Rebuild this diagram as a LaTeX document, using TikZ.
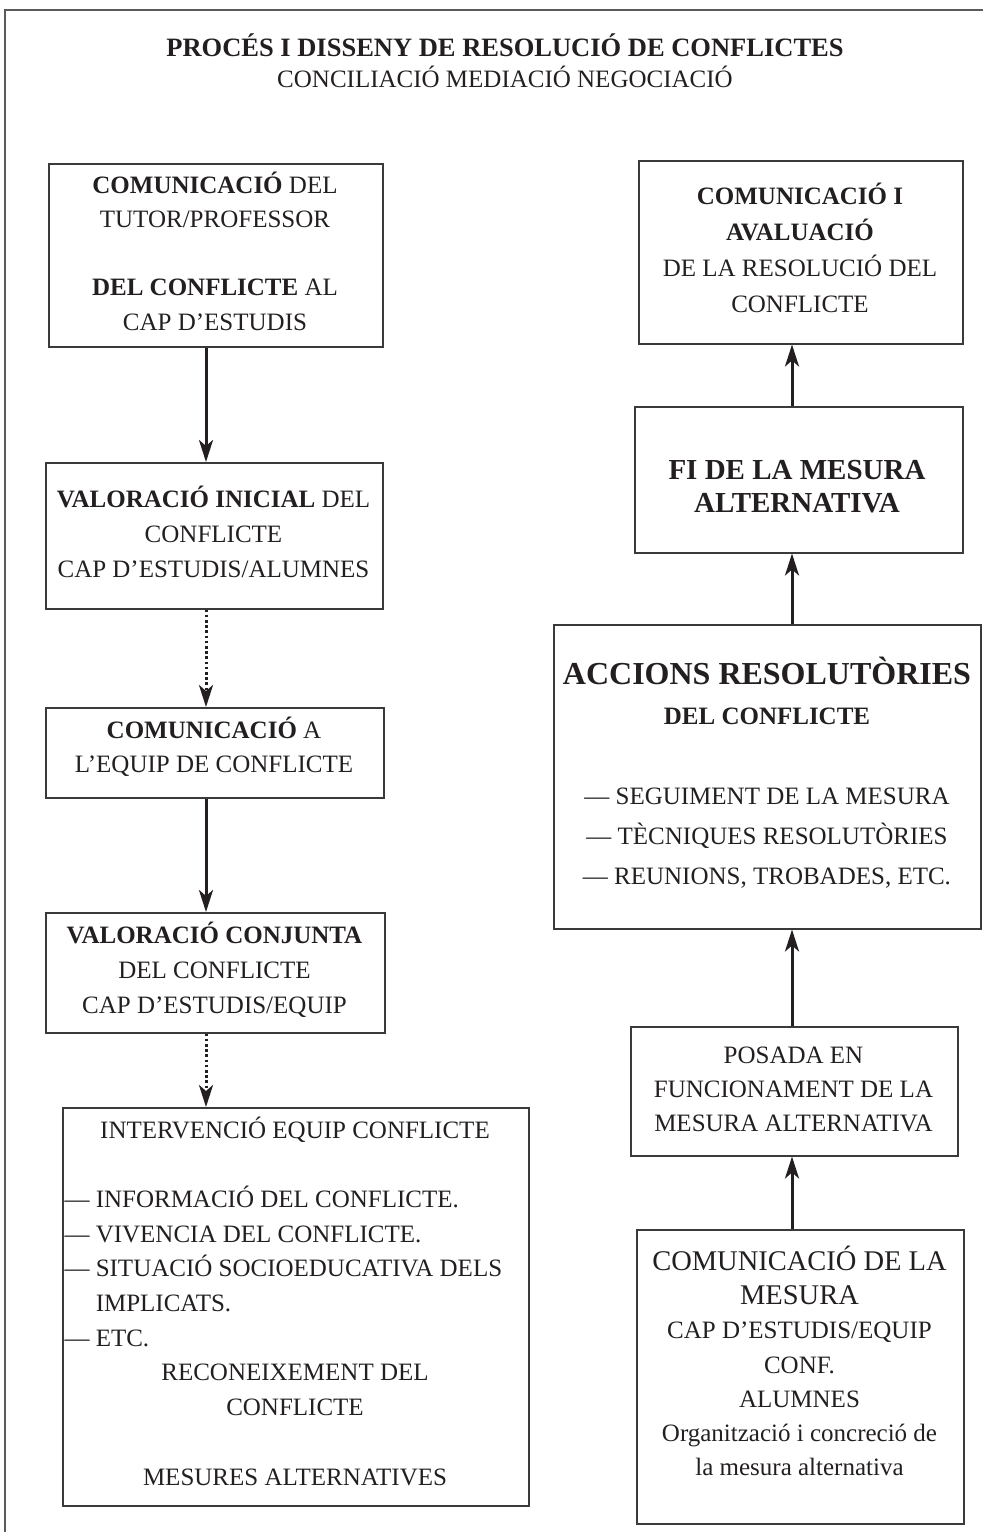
\documentclass[tikz,border=0pt]{standalone}
\usepackage{fontspec}
\setmainfont{Liberation Serif}
\usetikzlibrary{arrows.meta}
\definecolor{ink}{HTML}{231F20}
\definecolor{edge}{HTML}{3A3A3A}
\definecolor{framec}{HTML}{5A5A5A}
\begin{document}
\begin{tikzpicture}[x=1pt,y=-1pt,
  box/.style={draw=edge, line width=1.5pt, inner sep=0pt, anchor=north west},
  txt/.style={align=center, inner sep=0pt, text=ink, font=\fontsize{25}{34.5}\selectfont},
  arr/.style={draw=ink, line width=3pt, -{Stealth[length=22pt,width=14pt,inset=6pt]}},
  darr/.style={arr, dash pattern=on 2.6pt off 2.6pt}]
\useasboundingbox (0,0) rectangle (983,1532);
% frame
\draw[framec, line width=1.5pt] (5,1532) -- (5,10) -- (983,10);
% title
\node[txt, font=\fontsize{26.5}{32}\selectfont\bfseries] (title) at (505,45) {PROCÉS I DISSENY DE RESOLUCIÓ DE CONFLICTES};
\node[txt] (subtitle) at (505,77) {CONCILIACIÓ MEDIACIÓ NEGOCIACIÓ};
% left column boxes
\node[box, minimum width=334pt, minimum height=183pt] (b1) at (48,163) {};
\node[box, minimum width=337pt, minimum height=146pt] (b2) at (45,462) {};
\node[box, minimum width=338pt, minimum height=90pt] (b3) at (45,707) {};
\node[box, minimum width=339pt, minimum height=120pt] (b4) at (45,912) {};
\node[box, minimum width=466pt, minimum height=398pt] (b5) at (62,1107) {};
% right column boxes
\node[box, minimum width=324pt, minimum height=183pt] (r1) at (638,160) {};
\node[box, minimum width=328pt, minimum height=146pt] (r2) at (634,406) {};
\node[box, minimum width=427pt, minimum height=304pt] (r3) at (553,624) {};
\node[box, minimum width=327pt, minimum height=129pt] (r4) at (630,1026) {};
\node[box, minimum width=327pt, minimum height=294pt] (r5) at (636,1229) {};
% texts
\node[txt, font=\fontsize{25}{34.3}\selectfont] (b1t) at (215,251) {{\bfseries COMUNICACIÓ} DEL\\ TUTOR/PROFESSOR\\[34.3pt] {\bfseries DEL CONFLICTE} AL\\ CAP D’ESTUDIS};
\node[txt, font=\fontsize{25}{35}\selectfont] (b2t) at (213.5,532) {{\bfseries VALORACIÓ INICIAL} DEL\\ CONFLICTE\\ CAP D’ESTUDIS/ALUMNES};
\node[txt, font=\fontsize{25}{34}\selectfont] (b3t) at (214,747) {{\bfseries COMUNICACIÓ} A\\ L’EQUIP DE CONFLICTE};
\node[txt, font=\fontsize{25}{35}\selectfont] (b4t) at (214.5,969.5) {{\bfseries VALORACIÓ CONJUNTA}\\ DEL CONFLICTE\\ CAP D’ESTUDIS/EQUIP};
\node[txt, align=left, font=\fontsize{25}{34.7}\selectfont] (b5t) at (295,1301) {%
\makebox[461pt][c]{INTERVENCIÓ EQUIP CONFLICTE}\\[34.7pt]
— INFORMACIÓ DEL CONFLICTE.\\
— VIVENCIA DEL CONFLICTE.\\
— SITUACIÓ SOCIOEDUCATIVA DELS\\
\phantom{— }IMPLICATS.\\
— ETC.\\
\makebox[461pt][c]{RECONEIXEMENT DEL}\\
\makebox[461pt][c]{CONFLICTE}\\[34.7pt]
\makebox[461pt][c]{MESURES ALTERNATIVES}};
\node[txt, font=\fontsize{25}{36}\selectfont] (r1t) at (800,248) {{\bfseries COMUNICACIÓ I}\\ {\bfseries AVALUACIÓ}\\ DE LA RESOLUCIÓ DEL\\ CONFLICTE};
\node[txt, font=\fontsize{29}{33}\selectfont\bfseries] (r2t) at (797,486.5) {FI DE LA MESURA\\ ALTERNATIVA};
\node[txt, font=\fontsize{25}{40}\selectfont] (r3t) at (767,773) {{\fontsize{32}{42}\selectfont\bfseries ACCIONS RESOLUTÒRIES}\\ {\bfseries DEL CONFLICTE}\\[40pt] — SEGUIMENT DE LA MESURA\\ — TÈCNIQUES RESOLUTÒRIES\\ — REUNIONS, TROBADES, ETC.};
\node[txt, font=\fontsize{25}{34}\selectfont] (r4t) at (793.5,1089) {POSADA EN\\ FUNCIONAMENT DE LA\\ MESURA ALTERNATIVA};
\node[txt, font=\fontsize{25}{34.2}\selectfont] (r5t) at (799.5,1361) {{\fontsize{28.5}{34.2}\selectfont COMUNICACIÓ DE LA}\\ {\fontsize{28.5}{34.2}\selectfont MESURA}\\ CAP D’ESTUDIS/EQUIP\\ CONF.\\ ALUMNES\\ Organització i concreció de\\ la mesura alternativa};
% arrow axes
\coordinate (lx) at (206,0);
\coordinate (rx) at (792,0);
% connectors
\draw[arr] (b1.south -| lx) -- (b2.north -| lx);
\draw[darr] (b2.south -| lx) -- (b3.north -| lx);
\draw[arr] (b3.south -| lx) -- (b4.north -| lx);
\draw[darr] (b4.south -| lx) -- (b5.north -| lx);
\draw[arr] (r5.north -| rx) -- (r4.south -| rx);
\draw[arr] (r4.north -| rx) -- (r3.south -| rx);
\draw[arr] (r3.north -| rx) -- (r2.south -| rx);
\draw[arr] (r2.north -| rx) -- (r1.south -| rx);
\end{tikzpicture}
\end{document}
